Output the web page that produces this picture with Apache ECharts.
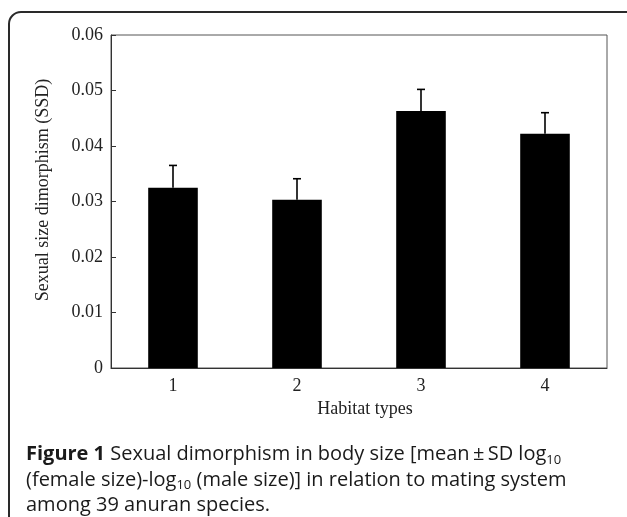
<!DOCTYPE html>
<html>
<head>
<meta charset="utf-8">
<script src="https://cdn.jsdelivr.net/npm/echarts@6/dist/echarts.min.js"></script>
<style>
html,body{margin:0;padding:0;background:#fff;}
#chart{width:627px;height:517px;}
</style>
</head>
<body>
<div id="chart"></div>
<script>
const categories = ['1', '2', '3', '4'];
const meanSSD = [0.0325, 0.0303, 0.0463, 0.0422];
const sdSSD = [0.0040, 0.0038, 0.0039, 0.0038];
const yTicks = [0, 0.01, 0.02, 0.03, 0.04, 0.05, 0.06];

const chart = echarts.init(document.getElementById('chart'), null, {renderer: 'canvas'});
const serif = '"Liberation Serif", "Times New Roman", serif';
const sans = '"Open Sans", "Noto Sans", sans-serif';

const errData = categories.map((c, i) => [i, meanSSD[i], meanSSD[i] + sdSSD[i]]);

chart.setOption({
  animation: false,
  backgroundColor: '#fff',
  grid: {
    left: 111, right: 20, top: 35, bottom: 149,
    show: true, borderColor: '#555', borderWidth: 1, backgroundColor: 'transparent'
  },
  xAxis: {
    type: 'category',
    data: categories,
    boundaryGap: true,
    axisLine: {lineStyle: {color: '#333', width: 1}},
    axisTick: {inside: true, length: 6, lineStyle: {color: '#333'}},
    axisLabel: {fontFamily: serif, fontSize: 18, color: '#222', margin: 9}
  },
  yAxis: {
    type: 'value',
    min: yTicks[0],
    max: yTicks[yTicks.length - 1],
    interval: 0.01,
    splitLine: {show: false},
    axisLine: {show: true, lineStyle: {color: '#333', width: 1}},
    axisTick: {show: true, inside: true, length: 5, lineStyle: {color: '#333'}},
    axisLabel: {
      fontFamily: serif, fontSize: 18, color: '#222', margin: 8,
      formatter: v => v === 0 ? '0' : v.toFixed(2)
    }
  },
  series: [
    {
      type: 'bar',
      data: meanSSD,
      barWidth: '40%',
      itemStyle: {color: '#000'},
      z: 2
    },
    {
      type: 'custom',
      data: errData,
      z: 3,
      renderItem: function (params, api) {
        const x = api.value(0);
        const lo = api.coord([x, api.value(1)]);
        const hi = api.coord([x, api.value(2)]);
        const half = 4;
        return {
          type: 'group',
          children: [
            {type: 'line', shape: {x1: lo[0], y1: lo[1], x2: hi[0], y2: hi[1]}, style: {stroke: '#000', lineWidth: 1.6}},
            {type: 'line', shape: {x1: hi[0] - half, y1: hi[1], x2: hi[0] + half, y2: hi[1]}, style: {stroke: '#000', lineWidth: 1.6}}
          ]
        };
      }
    }
  ],
  graphic: [
    {
      type: 'rect',
      shape: {x: 9, y: 12, width: 650, height: 540, r: 12},
      style: {fill: 'none', stroke: '#2a2a2a', lineWidth: 2},
      silent: true
    },
    {
      type: 'text',
      x: 43, y: 190,
      rotation: Math.PI / 2,
      style: {
        text: 'Sexual size dimorphism (SSD)',
        fontFamily: serif, fontSize: 18, fill: '#222',
        textAlign: 'center', textVerticalAlign: 'middle'
      }
    },
    {
      type: 'text',
      x: 365, y: 409,
      style: {
        text: 'Habitat types',
        fontFamily: serif, fontSize: 18, fill: '#222',
        textAlign: 'center', textVerticalAlign: 'middle'
      }
    },
    {
      type: 'text',
      x: 26, y: 442,
      style: {
        text: '{b|Figure 1} Sexual dimorphism in body size [mean\u2009\u00b1\u2009SD log{s|10}\n(female size)-log{s|10} (male size)] in relation to mating system\namong 39 anuran species.',
        fontFamily: sans, fontSize: 20, fill: '#1a1a1a', lineHeight: 25.5,
        textAlign: 'left', textVerticalAlign: 'top',
        rich: {
          b: {fontFamily: sans, fontSize: 20, fontWeight: 'bold', fill: '#1a1a1a', lineHeight: 25.5},
          s: {fontFamily: sans, fontSize: 13, fill: '#1a1a1a', lineHeight: 25.5, padding: [11, 0, 0, 0]}
        }
      }
    }
  ]
});
</script>
</body>
</html>
